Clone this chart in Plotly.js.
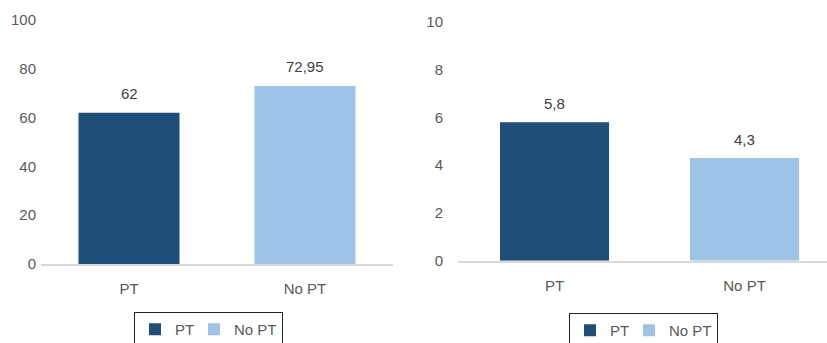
<!DOCTYPE html>
<html>
<head>
<meta charset="utf-8">
<script src="https://cdn.plot.ly/plotly-3.0.1.min.js"></script>
<style>html,body{margin:0;padding:0;background:#fff;}#chart{width:827px;height:343px;}</style>
</head>
<body>
<div id="chart"></div>
<script>
const categories = ['PT', 'No PT'];
const leftValues = [62, 72.95];
const rightValues = [5.8, 4.3];
const leftTicks = [0, 20, 40, 60, 80, 100];
const rightTicks = [0, 2, 4, 6, 8, 10];

const barColors = ['#1f4e79', '#9dc3e6'];
const legendWidths = [14, null];
const fmt = v => String(v).replace('.', ',');

function barTrace(c, i, v, xa, ya, lg) {
  const t = {type: 'bar', x: [c], y: [v], name: c, marker: {color: barColors[i]},
    xaxis: xa, yaxis: ya, legend: lg, hoverinfo: 'none'};
  if (legendWidths[i]) t.legendwidth = legendWidths[i];
  return t;
}
const traces = [];
categories.forEach((c, i) => traces.push(barTrace(c, i, leftValues[i], 'x', 'y', 'legend')));
categories.forEach((c, i) => traces.push(barTrace(c, i, rightValues[i], 'x2', 'y2', 'legend2')));

const annFont = {family: 'Liberation Sans, Arial, sans-serif', size: 15, color: '#404040'};
const annotations = [];
categories.forEach((c, i) => {
  annotations.push({x: c, y: leftValues[i], xref: 'x', yref: 'y', text: fmt(leftValues[i]),
    showarrow: false, yshift: 19, font: annFont});
  annotations.push({x: c, y: rightValues[i], xref: 'x2', yref: 'y2', text: fmt(rightValues[i]),
    showarrow: false, yshift: 19, font: annFont});
});

const tickFont = {family: 'Liberation Sans, Arial, sans-serif', size: 15, color: '#595959'};
const W = 827, H = 343;
const legendCommon = {orientation: 'h', xanchor: 'left', yanchor: 'top', bordercolor: '#222', borderwidth: 1,
  font: {family: 'Liberation Sans, Arial, sans-serif', size: 15, color: '#595959'}, bgcolor: 'rgba(0,0,0,0)',
  itemwidth: 30, traceorder: 'normal'};

const layout = {
  width: W, height: H,
  margin: {l: 0, r: 0, t: 0, b: 0, autoexpand: false},
  paper_bgcolor: '#fff', plot_bgcolor: '#fff',
  barmode: 'overlay', bargap: 0.426,
  showlegend: true,
  xaxis: {domain: [41 / W, 393 / W], type: 'category', categoryarray: categories, range: [-0.5, 1.5],
    showline: true, linecolor: '#d9d9d9', linewidth: 2, ticks: '', tickfont: tickFont, ticklabelstandoff: 10,
    showgrid: false, zeroline: false, fixedrange: true},
  yaxis: {domain: [(H - 264) / H, (H - 20) / H], range: [0, 100], tickvals: leftTicks, ticktext: leftTicks.map(String),
    showline: false, showgrid: false, zeroline: false, ticks: '', tickfont: tickFont, ticklabelstandoff: 4, fixedrange: true},
  xaxis2: {domain: [458 / W, 1], type: 'category', categoryarray: categories, range: [-0.508, 1.434],
    anchor: 'y2', showline: true, linecolor: '#d9d9d9', linewidth: 2, ticks: '', tickfont: tickFont, ticklabelstandoff: 10,
    showgrid: false, zeroline: false, fixedrange: true},
  yaxis2: {domain: [(H - 260.7) / H, (H - 22) / H], range: [0, 10], anchor: 'x2', tickvals: rightTicks, ticktext: rightTicks.map(String),
    showline: false, showgrid: false, zeroline: false, ticks: '', tickfont: tickFont, ticklabelstandoff: 14, fixedrange: true},
  legend: Object.assign({}, legendCommon, {x: 134 / W, y: (H - 312) / H}),
  legend2: Object.assign({}, legendCommon, {x: 569 / W, y: (H - 313) / H}),
  annotations: annotations
};

Plotly.newPlot('chart', traces, layout, {displayModeBar: false, staticPlot: true});
</script>
</body>
</html>
